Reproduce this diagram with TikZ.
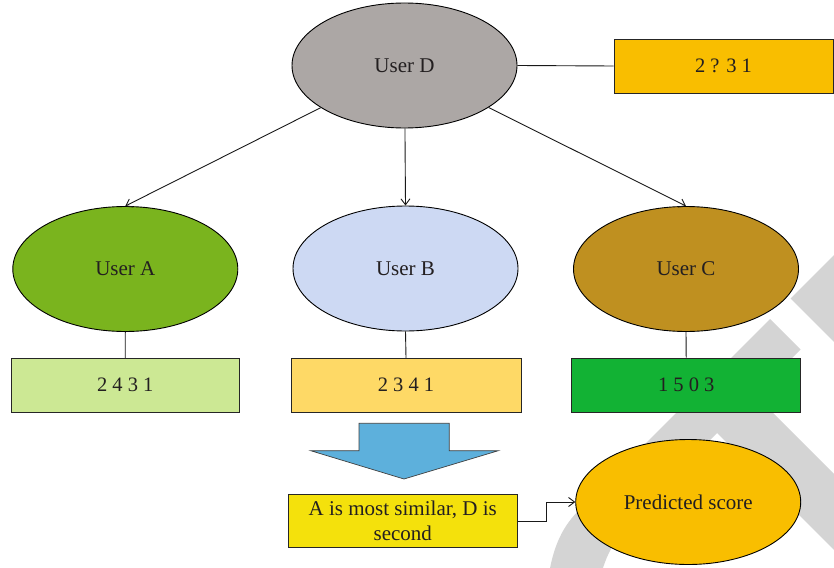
\documentclass[tikz,border=0pt]{standalone}
\usepackage{fontspec}
\setmainfont{Liberation Serif}
\usetikzlibrary{arrows.meta,shapes.geometric}
\definecolor{txt}{RGB}{35,31,32}
\definecolor{wm}{RGB}{212,212,212}
\definecolor{dgray}{RGB}{172,167,165}
\definecolor{agreen}{RGB}{122,180,30}
\definecolor{blight}{RGB}{205,217,243}
\definecolor{cbrown}{RGB}{191,144,32}
\definecolor{orng}{RGB}{249,190,0}
\definecolor{lgreen}{RGB}{204,232,148}
\definecolor{lyel}{RGB}{254,217,102}
\definecolor{bgreen}{RGB}{18,178,52}
\definecolor{bblue}{RGB}{93,176,220}
\definecolor{yel}{RGB}{244,225,12}
\tikzset{
  userell/.style={ellipse, draw=black, line width=0.9pt, minimum width=225pt, minimum height=125pt, inner sep=0pt, text=txt, font=\fontsize{21}{25}\selectfont},
  valbox/.style={rectangle, draw=black!85, line width=0.9pt, minimum height=54pt, inner sep=0pt, text=txt, font=\fontsize{20.5}{24}\selectfont},
  conn/.style={line width=0.9pt, draw=black!90},
  arr/.style={conn, -{Straight Barb[length=6pt,width=9pt]}},
}
\begin{document}
\begin{tikzpicture}[x=1pt,y=-1pt]
\useasboundingbox (0,0) rectangle (834,567);
% watermark
\begin{scope}
\clip (0,0) rectangle (834,567);
\fill[wm] (850,239) -- (790.5,298.5) -- (850,358) -- cycle;
\fill[wm] (770,319) -- (800.5,349.5) -- (755,395) -- (860,500) -- (860,576) -- (717,433)
  -- (650,500) .. controls (625,525) and (606,548) .. (600,580) -- (548,580)
  .. controls (553,545) and (563,526) .. (580,509) -- cycle;
\end{scope}
% nodes
\node[userell, fill=dgray] (D) at (404.5,65.5) {User D};
\node[valbox, fill=orng, minimum width=219pt] (X) at (723.5,66) {2 ? 3 1};
\node[userell, fill=agreen] (A) at (125.3,269) {User A};
\node[userell, fill=blight] (B) at (405.5,268.5) {User B};
\node[userell, fill=cbrown] (C) at (686,269) {User C};
\node[valbox, fill=lgreen, minimum width=228pt] (VA) at (125.2,385.3) {2 4 3 1};
\node[valbox, fill=lyel, minimum width=230pt] (VB) at (406,385.3) {2 3 4 1};
\node[valbox, fill=bgreen, minimum width=229pt] (VC) at (686.2,385) {1 5 0 3};
\node[valbox, fill=yel, minimum width=229pt, minimum height=53pt, align=center,
      font=\fontsize{21}{25}\selectfont] (Y) at (402.8,521.2) {A is most similar, D is\\second};
\node[userell, fill=orng] (P) at (688.2,502) {Predicted score};
% block arrow
\draw[fill=bblue, draw=black!75, line width=0.7pt] (359,423.3) -- (449.3,423.3) -- (449.3,450.7)
  -- (498.3,450.7) -- (404,479) -- (310.7,450.7) -- (359,450.7) -- cycle;
% connectors
\draw[conn] (D.east) -- (X.west);
\draw[arr] (D) -- (A.north);
\draw[arr] (D) -- (B.north);
\draw[arr] (D) -- (C.north);
\draw[conn] (A.south) -- (VA.north);
\draw[conn] (B.south) -- (VB.north);
\draw[conn] (C.south) -- (VC.north);
\draw[arr] (Y.east) -- ++(29,0) |- (P.west);
\end{tikzpicture}
\end{document}
